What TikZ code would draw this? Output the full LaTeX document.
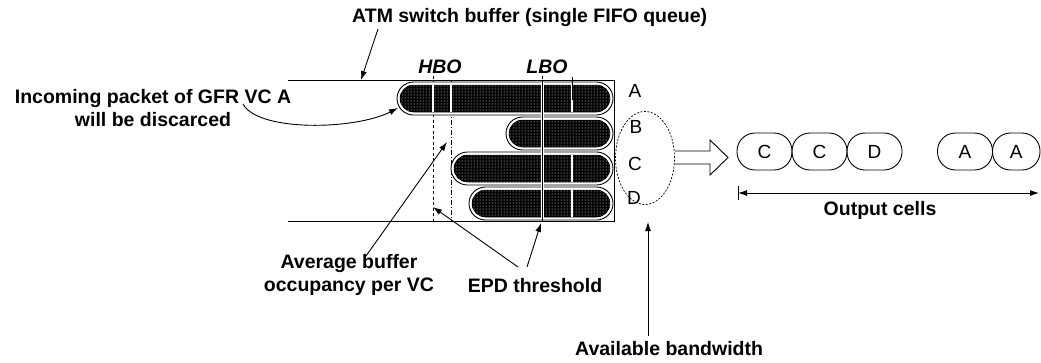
\documentclass[tikz,border=0pt]{standalone}
\usepackage{fontspec}
\setmainfont{Liberation Sans}
\usetikzlibrary{arrows.meta,shapes.geometric,patterns}
\begin{document}
\begin{tikzpicture}[x=1pt,y=-1pt,
  lbl/.style={font=\fontsize{19.5}{23}\selectfont\bfseries, align=center, inner sep=0pt},
  vclet/.style={font=\fontsize{19}{22}\selectfont, inner sep=0pt},
  ln/.style={line width=0.9pt},
  arr/.style={line width=0.9pt, -{Latex[length=9pt,width=6pt]}},
  lane/.style={draw, line width=0.9pt, rounded corners=16.5pt, fill=white,
    minimum height=33pt, inner sep=0pt,
    path picture={
      \fill[black, rounded corners=14pt]
        ([shift={(2.5pt,2.5pt)}]path picture bounding box.south west) rectangle
        ([shift={(-2.5pt,-2.5pt)}]path picture bounding box.north east);
      \fill[pattern=dots, pattern color=white]
        ([shift={(2.5pt,2.5pt)}]path picture bounding box.south west) rectangle
        ([shift={(-2.5pt,-2.5pt)}]path picture bounding box.north east);
      \fill[white, rounded corners=14pt, even odd rule]
        (path picture bounding box.south west) rectangle (path picture bounding box.north east)
        ([shift={(2.5pt,2.5pt)}]path picture bounding box.south west) rectangle
        ([shift={(-2.5pt,-2.5pt)}]path picture bounding box.north east);
    }},
  cell/.style={draw, line width=0.9pt, rounded corners=18pt, minimum width=55pt,
    minimum height=37pt, inner sep=0pt, font=\fontsize{19}{22}\selectfont},
  thr/.style={line width=0.8pt, dash pattern=on 3pt off 2.5pt},
  thrdd/.style={line width=0.8pt, dash pattern=on 5pt off 2pt on 1pt off 2pt}
]
\useasboundingbox (0,0) rectangle (1041,362);

% buffer outline
\draw[ln] (288,80) -- (614,80) -- (614,221) -- (288,221);

% thresholds
\draw[thr] (433,70) -- (433,221);
\draw[thrdd] (451,80) -- (451,221);
\draw[thr] (542,70) -- (542,80);

% lanes
\node[lane, minimum width=216pt] (laneA) at (505,98.5) {};
\node[lane, minimum width=107pt] (laneB) at (559.5,133.5) {};
\node[lane, minimum width=162pt] (laneC) at (532,168.5) {};
\node[lane, minimum width=144pt] (laneD) at (541,203.5) {};

% dividers inside lanes
\draw[white, line width=2pt] (433,85) -- (433,112);
\draw[white, line width=2pt] (451,85) -- (451,112);
\draw[white, line width=1.5pt] (572,85) -- (572,112);
\draw[white, line width=1.5pt] (572,155) -- (572,182);
\draw[white, line width=1.5pt] (572,190) -- (572,217);
\draw[white, line width=3pt] (542,82) -- (542,219);
\draw[ln] (542,80) -- (542,221);
\draw[ln] (572,77) -- (572,100);

% threshold labels
\node[lbl, font=\fontsize{19.5}{23}\selectfont\bfseries\itshape] (hbo) at (440,67) {HBO};
\node[lbl, font=\fontsize{19.5}{23}\selectfont\bfseries\itshape] (lbo) at (547,67) {LBO};

% lane letters
\node[vclet] (la) at (635,91) {A};
\node[vclet] (lb) at (636,127) {B};
\node[vclet] (lc) at (635,164) {C};
\node[vclet] (ld) at (634,198) {D};

% available bandwidth ellipse
\node[ellipse, draw, line width=0.7pt, dash pattern=on 2pt off 1.5pt,
  minimum width=59pt, minimum height=93pt, inner sep=0pt] (bw) at (645,158) {};

% hollow arrow
\draw[ln, fill=white] (675,151) -- (710,151) -- (710,140) -- (728,157.5)
  -- (710,175) -- (710,164) -- (675,164);

% output cells
\node[cell] (c1) at (764.5,151.5) {C};
\node[cell] (c2) at (819.5,151.5) {C};
\node[cell] (d1) at (874.5,151.5) {D};
\node[cell] (a1) at (965,151.5) {A};
\node[cell, minimum width=47.5pt] (a2) at (1016.25,151.5) {A};

% output span arrow
\coordinate (os) at (738,193);
\coordinate (oe) at (1039,193);
\draw[ln, {Latex[length=9pt,width=6pt]}-{Latex[length=9pt,width=6pt]}] (os) -- (oe);
\draw[ln] (738,186) -- (738,200);
\node[lbl] (outc) at (880,210) {Output cells};

% texts
\node[lbl, anchor=west] (title) at (352,17) {ATM switch buffer (single FIFO queue)};
\node[lbl] (inc) at (153,108) {Incoming packet of GFR VC A\\will be discarced};
\node[lbl] (avg) at (349,275) {Average buffer\\occupancy per VC};
\node[lbl] (epd) at (535,286) {EPD threshold};
\node[lbl, anchor=west] (avail) at (575,349) {Available bandwidth};

% connectors
\coordinate (tS) at (378,29);
\coordinate (tE) at (361,80);
\draw[arr] (tS) -- (tE);

\coordinate (iS) at (243,104);
\coordinate (iE) at (398,108);
\draw[arr] (iS) .. controls (258,132) and (355,130) .. (iE);

\coordinate (aS) at (366,256);
\coordinate (aE) at (447,142);
\draw[arr] (aS) -- (aE);

\coordinate (e1S) at (518,267);
\coordinate (e1E) at (433,207);
\draw[arr] (e1S) -- (e1E);
\coordinate (e2S) at (527,267);
\coordinate (e2E) at (541,223);
\draw[arr] (e2S) -- (e2E);

\coordinate (bS) at (648,336);
\coordinate (bE) at (648,222);
\draw[arr] (bS) -- (bE);
\end{tikzpicture}
\end{document}
